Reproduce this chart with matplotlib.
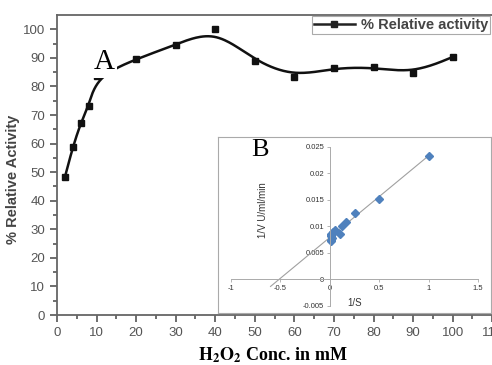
import numpy as np
import matplotlib
matplotlib.use('Agg')
import matplotlib.pyplot as plt
from matplotlib.ticker import MultipleLocator, FixedLocator, FuncFormatter

plt.rcParams['font.family'] = ['Liberation Sans', 'DejaVu Sans']
plt.rcParams['mathtext.fontset'] = 'stix'

# Datos del grafico principal (actividad relativa vs H2O2)
conc = [2, 4, 6, 8, 10, 20, 30, 40, 50, 60, 70, 80, 90, 100]
actividad = [48.3, 58.8, 67.2, 73.1, 83.5, 89.6, 94.6, 100.1, 88.8, 83.4, 86.5, 86.7, 84.6, 90.3]

# Datos del inset (Lineweaver-Burk)
inv_s = [1.0, 0.5, 0.25, 0.167, 0.125, 0.1, 0.05, 0.033, 0.025, 0.02, 0.0167, 0.0143, 0.0125, 0.0111, 0.01]
inv_v = [0.0233, 0.0152, 0.0124, 0.0108, 0.0100, 0.0086, 0.0092, 0.0089, 0.0085,
         0.0077, 0.0072, 0.0074, 0.0081, 0.0083, 0.0086]

W, H = 492, 365


def bspline(xs, ys, n=30):
    # curva B-spline cubica (tipo Origin) usando los puntos como control
    px = np.r_[[xs[0]] * 2, xs, [xs[-1]] * 2].astype(float)
    py = np.r_[[ys[0]] * 2, ys, [ys[-1]] * 2].astype(float)
    t = np.linspace(0, 1, n)
    b0 = (1 - t) ** 3 / 6
    b1 = (3 * t ** 3 - 6 * t ** 2 + 4) / 6
    b2 = (-3 * t ** 3 + 3 * t ** 2 + 3 * t + 1) / 6
    b3 = t ** 3 / 6
    cx, cy = [], []
    for i in range(len(px) - 3):
        cx.append(b0 * px[i] + b1 * px[i + 1] + b2 * px[i + 2] + b3 * px[i + 3])
        cy.append(b0 * py[i] + b1 * py[i + 1] + b2 * py[i + 2] + b3 * py[i + 3])
    return np.concatenate(cx), np.concatenate(cy)


fig = plt.figure(figsize=(W / 100, H / 100), dpi=100, facecolor='white')

# Eje principal
ax = fig.add_axes([57 / W, 50 / H, 455 / W, 300 / H])
cx, cy = bspline(conc, actividad)
ax.plot(cx, cy, color='#111111', lw=1.8, zorder=3)
ax.plot(conc, actividad, ls='none', marker='s', ms=5, color='#111111', zorder=4)
ax.plot([], [], color='#222222', lw=1.8, marker='s', ms=5, label='% Relative activity')

ax.set_xlim(0, 115)
ax.set_ylim(0, 105)
ax.xaxis.set_major_locator(MultipleLocator(10))
ax.xaxis.set_minor_locator(MultipleLocator(5))
ax.yaxis.set_major_locator(FixedLocator(np.arange(0, 101, 10)))
ax.yaxis.set_minor_locator(FixedLocator(np.arange(5, 101, 10)))
ax.tick_params(which='both', direction='out', color='#555555', width=1.2,
               labelcolor='#555555', labelsize=9.5)
ax.tick_params(which='major', length=5)
ax.tick_params(which='minor', length=3)
for s in ('left', 'bottom', 'top', 'right'):
    ax.spines[s].set_color('#666666')
    ax.spines[s].set_linewidth(1.3)

ax.set_ylabel('% Relative Activity', fontsize=10.5, fontweight='bold', color='#444444')
ax.yaxis.set_label_coords((20 - 57) / 455, (315 - 179) / 300)

leg = ax.legend(loc='upper right', bbox_to_anchor=(490 / W, 1 - 16 / H),
                bbox_transform=fig.transFigure, fancybox=False, framealpha=1,
                edgecolor='#aaaaaa', handlelength=2.8, borderpad=0.15,
                handletextpad=0.4, borderaxespad=0,
                prop={'size': 10.5, 'weight': 'bold'})
for t in leg.get_texts():
    t.set_color('#444444')
leg.get_frame().set_linewidth(0.8)

fig.text(273 / W, 1 - 360 / H, r'$\mathbf{H_2O_2}$ Conc. in mM', fontsize=13,
         fontweight='bold', family='Liberation Serif', ha='center', va='baseline')

fig.text(104 / W, 1 - 62 / H, 'A', fontsize=21, family='Liberation Serif',
         ha='center', va='center', bbox=dict(facecolor='white', edgecolor='none', pad=2))

# Recuadro del inset
box = fig.add_axes([218 / W, 52 / H, 273 / W, 176 / H], facecolor='white')
box.set_xticks([])
box.set_yticks([])
for s in box.spines.values():
    s.set_color('#aaaaaa')
    s.set_linewidth(0.8)

ax2 = fig.add_axes([231 / W, (H - 305.7) / H, 247 / W, 159 / H], facecolor='none')
ax2.set_xlim(-1, 1.5)
ax2.set_ylim(-0.005, 0.025)
pend, inter = np.polyfit(inv_s, inv_v, 1)
xl = np.array([-0.6, 1.0])
ax2.plot(xl, pend * xl + inter, color='#a0a0a0', lw=0.8)
ax2.plot(inv_s, inv_v, ls='none', marker='D', ms=4, color='#4F81BD')
ax2.spines['left'].set_position(('data', 0))
ax2.spines['bottom'].set_position(('data', 0))
ax2.spines['top'].set_visible(False)
ax2.spines['right'].set_visible(False)
for s in ('left', 'bottom'):
    ax2.spines[s].set_color('#aaaaaa')
    ax2.spines[s].set_linewidth(0.7)
ax2.set_xticks([-1, -0.5, 0, 0.5, 1, 1.5])
ax2.set_yticks([-0.005, 0, 0.005, 0.01, 0.015, 0.02, 0.025])
ax2.xaxis.set_major_formatter(FuncFormatter(lambda v, p: '%g' % v))
ax2.yaxis.set_major_formatter(FuncFormatter(lambda v, p: '%g' % round(v, 3)))
ax2.tick_params(direction='out', length=2, width=0.6, color='#aaaaaa',
                labelsize=5.5, labelcolor='#333333', pad=2)
ax2.text(0.13, 0.60, '1/V U/ml/min', rotation=90, fontsize=7, color='#333333',
         ha='center', va='center', transform=ax2.transAxes)
ax2.text(0.502, 0.017, '1/S', fontsize=7, color='#333333',
         ha='center', va='center', transform=ax2.transAxes)

fig.text(260 / W, 1 - 150 / H, 'B', fontsize=19, family='Liberation Serif',
         ha='center', va='center')

fig.savefig('out.png', dpi=100)
